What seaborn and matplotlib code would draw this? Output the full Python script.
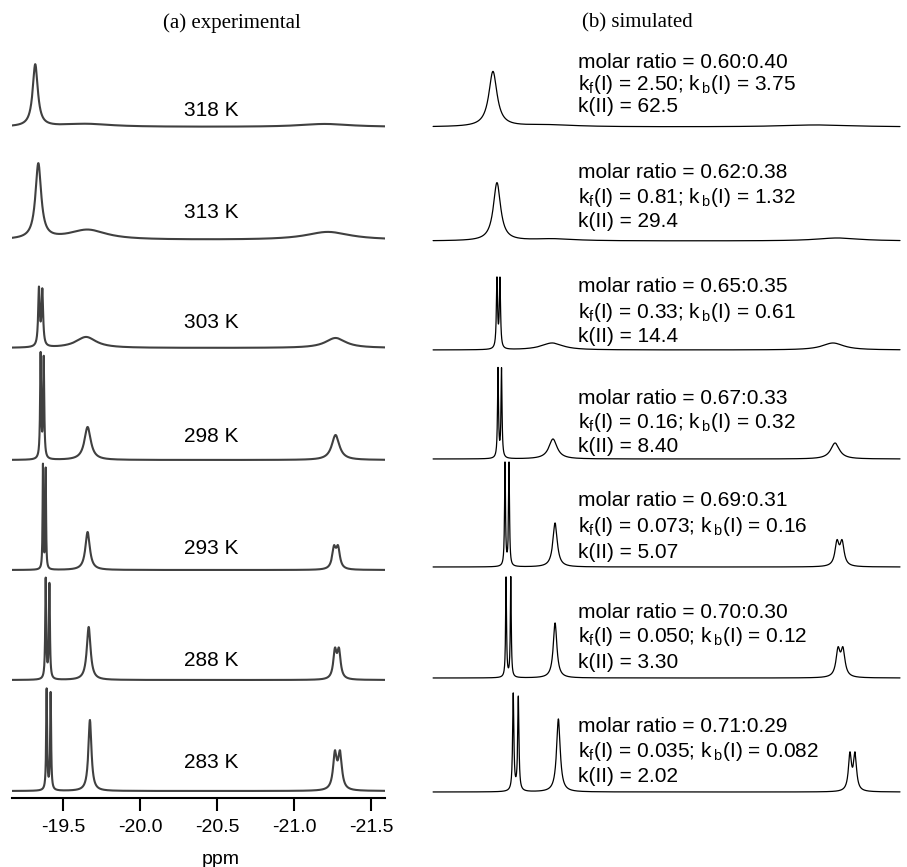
import numpy as np
import pandas as pd
import matplotlib
matplotlib.use("Agg")
import matplotlib.pyplot as plt
import seaborn as sns


# --- Data ---
temps = ["318 K", "313 K", "303 K", "298 K", "293 K", "288 K", "283 K"]

# experimental peaks: centre (ppm), height (a.u.), fwhm (ppm)
exp_centres = [
    [-19.32, -19.65, -21.20],
    [-19.34, -19.66, -21.22],
    [-19.344, -19.366, -19.65, -21.27],
    [-19.355, -19.375, -19.66, -21.27],
    [-19.37, -19.388, -19.66, -21.26, -21.286],
    [-19.388, -19.412, -19.667, -21.266, -21.292],
    [-19.394, -19.42, -19.675, -21.266, -21.299],
]
exp_heights = [
    [62, 3, 3],
    [75, 10, 8],
    [57, 55, 11, 10],
    [104, 100, 33, 25],
    [104, 100, 38, 20, 20],
    [100, 95, 53, 27, 27],
    [101, 97, 71, 35, 35],
]
exp_widths = [
    [0.040, 0.40, 0.40],
    [0.045, 0.30, 0.35],
    [0.012, 0.012, 0.16, 0.16],
    [0.008, 0.008, 0.050, 0.060],
    [0.0055, 0.0055, 0.035, 0.029, 0.029],
    [0.0075, 0.0075, 0.030, 0.026, 0.026],
    [0.0072, 0.0072, 0.024, 0.029, 0.029],
]

# simulated peaks
sim_centres = [
    [-19.321, -19.63, -21.17],
    [-19.344, -19.664, -21.29],
    [-19.344, -19.361, -19.659, -21.264],
    [-19.35, -19.37, -19.664, -21.276],
    [-19.39, -19.413, -19.676, -21.287, -21.316],
    [-19.396, -19.423, -19.676, -21.293, -21.321],
    [-19.437, -19.466, -19.695, -21.361, -21.390],
]
sim_heights = [
    [55, 2, 2],
    [58, 2, 3],
    [69, 69, 7, 7],
    [89, 89, 20, 16],
    [103, 103, 44, 23, 23],
    [100, 100, 55, 26, 26],
    [97, 94, 73, 36, 36],
]
sim_widths = [
    [0.057, 0.40, 0.50],
    [0.050, 0.30, 0.30],
    [0.0081, 0.0081, 0.15, 0.15],
    [0.0068, 0.0068, 0.057, 0.060],
    [0.0064, 0.0064, 0.030, 0.028, 0.028],
    [0.0062, 0.0062, 0.025, 0.028, 0.028],
    [0.0085, 0.0085, 0.025, 0.021, 0.021],
]

molar_ratio = ["0.60:0.40", "0.62:0.38", "0.65:0.35", "0.67:0.33", "0.69:0.31", "0.70:0.30", "0.71:0.29"]
k_f = ["2.50", "0.81", "0.33", "0.16", "0.073", "0.050", "0.035"]
k_b = ["3.75", "1.32", "0.61", "0.32", "0.16", "0.12", "0.082"]
k_II = ["62.5", "29.4", "14.4", "8.40", "5.07", "3.30", "2.02"]

ppm_ticks = [-19.5, -20.0, -20.5, -21.0, -21.5]


# --- Layout (figure pixels) ---
W, H = 907, 867
exp_base_px = [127, 240, 348, 460, 570, 680, 791]
sim_base_px = [127, 241, 350, 459, 567, 678, 792]
label_y_px = [110, 212, 323, 437, 548, 660, 763]
text_y_px = [62, 173, 287, 399, 501, 612, 726]
text_step_px = [22.5, 24.5, 25, 24, 25.5, 25, 25.5]
axis_px = 798
top_px = 40


def lorentz_sum(x, centres, heights, widths):
    y = np.zeros_like(x)
    for c, h, w in zip(centres, heights, widths):
        y += h / (1 + ((x - c) / (w / 2)) ** 2)
    return y


x_exp = np.linspace(-19.169, -21.591, 5000)
x_sim = np.linspace(-18.979, -21.647, 5000)

rows = []
for i, t in enumerate(temps):
    y = lorentz_sum(x_exp, exp_centres[i], exp_heights[i], exp_widths[i])
    rows.append(pd.DataFrame({"ppm": x_exp, "y": y + (axis_px - exp_base_px[i]), "spec": t, "kind": "exp"}))
    y = lorentz_sum(x_sim, sim_centres[i], sim_heights[i], sim_widths[i])
    rows.append(pd.DataFrame({"ppm": x_sim, "y": y + (axis_px - sim_base_px[i]), "spec": t, "kind": "sim"}))
df = pd.concat(rows, ignore_index=True)


# --- Plot styling ---
sns.set_theme(style="white")
plt.rcParams["font.family"] = ["Liberation Sans", "DejaVu Sans"]
plt.rcParams["mathtext.default"] = "regular"
plt.rcParams["axes.unicode_minus"] = False
plt.rcParams["text.color"] = "black"
plt.rcParams["axes.labelcolor"] = "black"
plt.rcParams["xtick.color"] = "black"

fig = plt.figure(figsize=(W / 100, H / 100), dpi=100)


def px_box(x0, x1, ytop, ybot):
    return [x0 / W, 1 - ybot / H, (x1 - x0) / W, (ybot - ytop) / H]


ax_exp = fig.add_axes(px_box(12, 385, top_px, axis_px))
ax_sim = fig.add_axes(px_box(424, 907, top_px, axis_px))


# --- Plot data ---
sns.lineplot(
    data=df[df["kind"] == "exp"], x="ppm", y="y", units="spec", estimator=None,
    color="#404040", linewidth=1.5, ax=ax_exp
)
sns.lineplot(
    data=df[df["kind"] == "sim"], x="ppm", y="y", units="spec", estimator=None,
    color="black", linewidth=0.9, ax=ax_sim
)


# --- Axes configuration ---
ax_exp.set_xlim(-19.169, -21.591)
ax_exp.set_ylim(0, axis_px - top_px)
ax_sim.set_xlim(-18.927, -21.687)
ax_sim.set_ylim(0, axis_px - top_px)

for side in ["top", "left", "right"]:
    ax_exp.spines[side].set_visible(False)
ax_exp.spines["bottom"].set_color("black")
ax_exp.spines["bottom"].set_linewidth(1.5)
ax_exp.set_yticks([])
ax_exp.set_ylabel("")
ax_exp.set_xticks(ppm_ticks)
ax_exp.set_xticklabels([f"{v:.1f}" for v in ppm_ticks])
ax_exp.tick_params(axis="x", direction="out", length=9, width=1.5, color="black",
                   labelcolor="black", labelsize=14, pad=6, bottom=True)
ax_exp.set_xlabel("ppm", fontsize=14, color="black")
ax_exp.xaxis.set_label_coords((221 - 12) / (385 - 12), -0.07)
ax_exp.patch.set_alpha(0)

ax_sim.axis("off")


# --- Text ---
fig.text(232 / W, 1 - 23 / H, "(a) experimental", ha="center", va="center",
         fontsize=15, family="Liberation Serif")
fig.text(637 / W, 1 - 23 / H, "(b) simulated", ha="center", va="center",
         fontsize=15, family="Liberation Serif")

for i, t in enumerate(temps):
    fig.text(211 / W, 1 - label_y_px[i] / H, t, ha="center", va="center", fontsize=15)
    lines = [
        f"molar ratio = {molar_ratio[i]}",
        f"k$_{{f}}$(I) = {k_f[i]}; k$_{{\\,b}}$(I) = {k_b[i]}",
        f"k(II) = {k_II[i]}",
    ]
    for j, s in enumerate(lines):
        fig.text(578 / W, 1 - (text_y_px[i] + text_step_px[i] * j) / H, s,
                 ha="left", va="center", fontsize=15)


# --- Render ---
fig.savefig("out.png", dpi=100)
